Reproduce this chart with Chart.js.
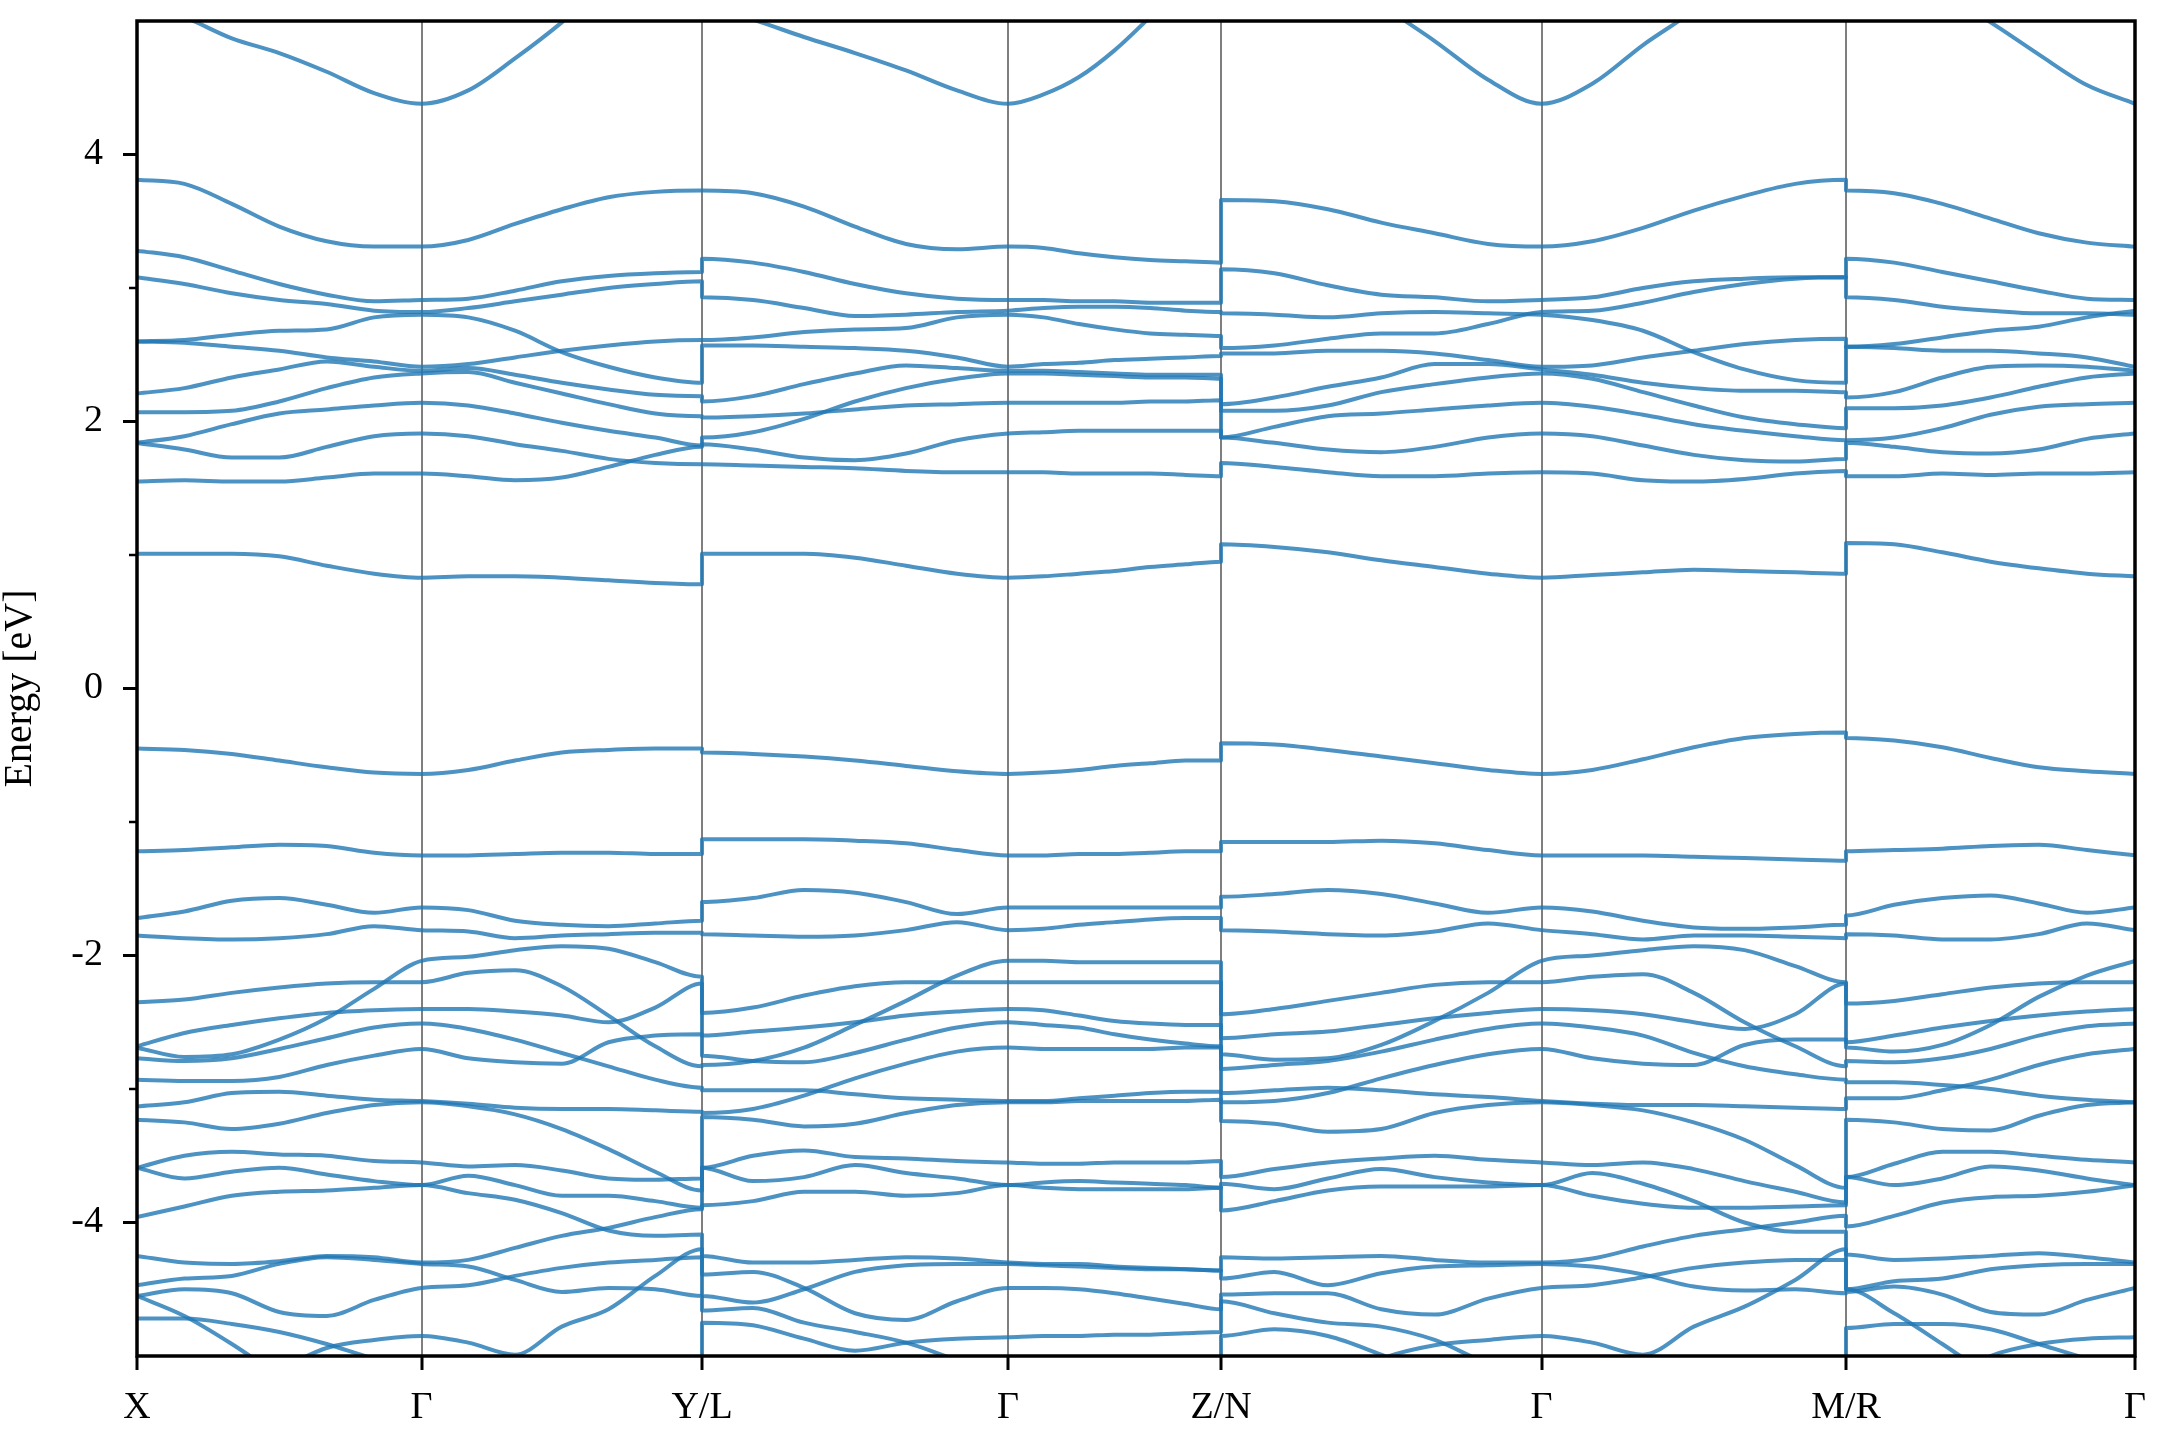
<!DOCTYPE html>
<html>
<head>
<meta charset="utf-8">
<script src="https://cdn.jsdelivr.net/npm/chart.js@4.4.0/dist/chart.umd.min.js"></script>
<style>
  html, body { margin: 0; padding: 0; background: #fff; }
  canvas { display: block; }
</style>
</head>
<body>
<canvas id="bands" width="2160" height="1440"></canvas>
<script>
// high-symmetry points along the k-path (cumulative distance)
var kNodes = [0, 284.5, 565, 871, 1084, 1404.5, 1709, 1998];
var kLabels = ['X', 'Γ', 'Y/L', 'Γ', 'Z/N', 'Γ', 'M/R', 'Γ'];
var energyTicks = [-4, -3, -2, -1, 0, 1, 2, 3, 4];

// energies in eV, 7 samples per segment (Γ shared), one row per band
var bandsXGY = [
  [5.15, 5.03, 4.87, 4.76, 4.62, 4.46, 4.38, 4.48, 4.72, 4.99, 5.30, 5.60, 5.90],
  [3.81, 3.78, 3.63, 3.46, 3.35, 3.31, 3.31, 3.36, 3.48, 3.59, 3.68, 3.72, 3.73],
  [3.28, 3.23, 3.13, 3.03, 2.95, 2.90, 2.91, 2.92, 2.98, 3.05, 3.09, 3.11, 3.12],
  [3.08, 3.03, 2.96, 2.91, 2.88, 2.83, 2.82, 2.85, 2.90, 2.95, 3.00, 3.03, 3.05],
  [2.60, 2.61, 2.65, 2.68, 2.69, 2.78, 2.80, 2.78, 2.68, 2.52, 2.41, 2.33, 2.29],
  [2.60, 2.59, 2.56, 2.53, 2.48, 2.45, 2.41, 2.43, 2.48, 2.53, 2.57, 2.60, 2.61],
  [2.21, 2.25, 2.33, 2.39, 2.45, 2.41, 2.38, 2.40, 2.35, 2.29, 2.24, 2.20, 2.19],
  [2.07, 2.07, 2.08, 2.15, 2.25, 2.33, 2.36, 2.37, 2.29, 2.21, 2.13, 2.06, 2.04],
  [1.84, 1.89, 1.98, 2.06, 2.09, 2.12, 2.14, 2.12, 2.06, 1.99, 1.93, 1.88, 1.82],
  [1.84, 1.79, 1.73, 1.73, 1.81, 1.89, 1.91, 1.89, 1.83, 1.78, 1.72, 1.69, 1.68],
  [1.55, 1.56, 1.55, 1.55, 1.58, 1.61, 1.61, 1.59, 1.56, 1.58, 1.66, 1.75, 1.81],
  [1.01, 1.01, 1.01, 0.99, 0.92, 0.86, 0.83, 0.84, 0.84, 0.83, 0.81, 0.79, 0.78],
  [-0.45, -0.46, -0.49, -0.54, -0.59, -0.63, -0.64, -0.61, -0.54, -0.48, -0.46, -0.45, -0.45],
  [-1.22, -1.21, -1.19, -1.17, -1.18, -1.23, -1.25, -1.25, -1.24, -1.23, -1.23, -1.24, -1.24],
  [-1.72, -1.67, -1.59, -1.57, -1.62, -1.68, -1.64, -1.66, -1.74, -1.77, -1.78, -1.76, -1.74],
  [-1.85, -1.87, -1.88, -1.87, -1.84, -1.78, -1.81, -1.82, -1.87, -1.85, -1.84, -1.83, -1.83],
  [-2.35, -2.33, -2.28, -2.24, -2.21, -2.20, -2.20, -2.13, -2.11, -2.23, -2.45, -2.68, -2.83],
  [-2.68, -2.58, -2.52, -2.47, -2.43, -2.41, -2.40, -2.40, -2.42, -2.45, -2.50, -2.39, -2.21],
  [-2.69, -2.76, -2.74, -2.63, -2.47, -2.25, -2.04, -2.01, -1.96, -1.93, -1.95, -2.05, -2.16],
  [-2.77, -2.79, -2.77, -2.70, -2.62, -2.54, -2.51, -2.55, -2.63, -2.73, -2.83, -2.93, -2.99],
  [-2.93, -2.94, -2.94, -2.91, -2.82, -2.75, -2.70, -2.77, -2.80, -2.81, -2.65, -2.60, -2.59],
  [-3.13, -3.10, -3.03, -3.02, -3.05, -3.08, -3.09, -3.11, -3.14, -3.15, -3.15, -3.16, -3.17],
  [-3.23, -3.25, -3.30, -3.26, -3.18, -3.12, -3.10, -3.13, -3.19, -3.30, -3.45, -3.62, -3.76],
  [-3.59, -3.50, -3.47, -3.49, -3.50, -3.54, -3.55, -3.58, -3.57, -3.61, -3.67, -3.68, -3.67],
  [-3.59, -3.67, -3.62, -3.59, -3.64, -3.69, -3.72, -3.65, -3.72, -3.80, -3.80, -3.84, -3.89],
  [-3.96, -3.88, -3.80, -3.77, -3.76, -3.74, -3.72, -3.78, -3.83, -3.93, -4.06, -4.10, -4.09],
  [-4.25, -4.30, -4.31, -4.29, -4.25, -4.26, -4.30, -4.28, -4.19, -4.10, -4.04, -3.96, -3.90],
  [-4.47, -4.42, -4.40, -4.31, -4.26, -4.28, -4.31, -4.33, -4.43, -4.52, -4.49, -4.50, -4.55],
  [-4.55, -4.50, -4.53, -4.67, -4.70, -4.58, -4.49, -4.47, -4.40, -4.34, -4.30, -4.28, -4.26],
  [-4.55, -4.70, -4.91, -5.15, -5.40, -5.60, -5.70, -5.75, -5.80, -5.80, -5.80, -5.80, -5.80],
  [-4.72, -4.72, -4.76, -4.82, -4.91, -5.02, -5.10, -5.20, -5.30, -5.40, -5.50, -5.55, -5.60],
  [-5.50, -5.40, -5.25, -5.10, -4.94, -4.88, -4.85, -4.90, -4.99, -4.78, -4.65, -4.40, -4.20]
];

var bandsLGZ = [
  [5.12, 5.01, 4.88, 4.76, 4.63, 4.48, 4.38, 4.45, 4.58, 4.78, 5.03, 5.30, 5.60],
  [3.73, 3.71, 3.61, 3.46, 3.33, 3.29, 3.31, 3.30, 3.26, 3.23, 3.21, 3.20, 3.19],
  [3.22, 3.19, 3.12, 3.03, 2.96, 2.92, 2.91, 2.91, 2.90, 2.90, 2.89, 2.89, 2.89],
  [2.93, 2.91, 2.85, 2.79, 2.80, 2.82, 2.83, 2.85, 2.86, 2.86, 2.85, 2.83, 2.82],
  [2.61, 2.63, 2.67, 2.69, 2.70, 2.78, 2.80, 2.78, 2.73, 2.69, 2.66, 2.65, 2.64],
  [2.57, 2.57, 2.56, 2.55, 2.53, 2.48, 2.41, 2.43, 2.44, 2.46, 2.47, 2.48, 2.49],
  [2.15, 2.19, 2.28, 2.36, 2.42, 2.40, 2.38, 2.38, 2.37, 2.36, 2.35, 2.35, 2.35],
  [2.03, 2.04, 2.06, 2.09, 2.12, 2.13, 2.14, 2.14, 2.14, 2.14, 2.15, 2.15, 2.16],
  [1.88, 1.92, 2.02, 2.15, 2.25, 2.32, 2.36, 2.36, 2.35, 2.34, 2.33, 2.33, 2.32],
  [1.83, 1.79, 1.73, 1.71, 1.76, 1.86, 1.91, 1.92, 1.93, 1.93, 1.93, 1.93, 1.93],
  [1.68, 1.67, 1.66, 1.65, 1.63, 1.62, 1.62, 1.62, 1.61, 1.61, 1.61, 1.60, 1.59],
  [1.01, 1.01, 1.01, 0.98, 0.92, 0.86, 0.83, 0.84, 0.86, 0.88, 0.91, 0.93, 0.95],
  [-0.48, -0.49, -0.51, -0.54, -0.58, -0.62, -0.64, -0.63, -0.61, -0.58, -0.56, -0.54, -0.54],
  [-1.13, -1.13, -1.13, -1.14, -1.16, -1.21, -1.25, -1.25, -1.24, -1.24, -1.23, -1.22, -1.22],
  [-1.60, -1.57, -1.51, -1.53, -1.60, -1.69, -1.64, -1.64, -1.64, -1.64, -1.64, -1.64, -1.64],
  [-1.84, -1.85, -1.86, -1.85, -1.81, -1.75, -1.81, -1.80, -1.77, -1.75, -1.73, -1.72, -1.72],
  [-2.43, -2.39, -2.30, -2.23, -2.20, -2.20, -2.20, -2.20, -2.20, -2.20, -2.20, -2.20, -2.20],
  [-2.60, -2.57, -2.54, -2.50, -2.45, -2.42, -2.40, -2.41, -2.45, -2.49, -2.51, -2.52, -2.52],
  [-2.82, -2.79, -2.69, -2.52, -2.34, -2.15, -2.04, -2.04, -2.05, -2.05, -2.05, -2.05, -2.05],
  [-2.75, -2.79, -2.80, -2.73, -2.63, -2.54, -2.50, -2.52, -2.54, -2.59, -2.63, -2.66, -2.68],
  [-3.01, -3.01, -3.01, -3.04, -3.07, -3.08, -3.09, -3.09, -3.07, -3.05, -3.03, -3.02, -3.02],
  [-3.18, -3.15, -3.05, -2.92, -2.81, -2.72, -2.69, -2.70, -2.70, -2.70, -2.70, -2.69, -2.69],
  [-3.21, -3.23, -3.28, -3.26, -3.18, -3.12, -3.10, -3.10, -3.09, -3.09, -3.09, -3.09, -3.08],
  [-3.59, -3.50, -3.46, -3.51, -3.52, -3.54, -3.55, -3.56, -3.56, -3.55, -3.55, -3.55, -3.54],
  [-3.59, -3.69, -3.66, -3.57, -3.63, -3.67, -3.72, -3.70, -3.69, -3.70, -3.71, -3.72, -3.74],
  [-3.87, -3.84, -3.77, -3.77, -3.80, -3.78, -3.72, -3.74, -3.75, -3.75, -3.75, -3.75, -3.74],
  [-4.25, -4.30, -4.30, -4.28, -4.26, -4.27, -4.30, -4.31, -4.31, -4.33, -4.34, -4.35, -4.36],
  [-4.39, -4.37, -4.49, -4.68, -4.73, -4.59, -4.49, -4.49, -4.50, -4.53, -4.57, -4.61, -4.65],
  [-4.55, -4.60, -4.50, -4.37, -4.32, -4.31, -4.31, -4.32, -4.33, -4.34, -4.35, -4.35, -4.36],
  [-4.66, -4.64, -4.75, -4.82, -4.90, -5.03, -5.15, -5.20, -5.25, -5.30, -5.30, -5.30, -5.30],
  [-4.75, -4.77, -4.87, -4.96, -4.90, -4.87, -4.86, -4.85, -4.85, -4.84, -4.84, -4.83, -4.82],
  [-5.50, -5.50, -5.50, -5.50, -5.50, -5.50, -5.50, -5.50, -5.50, -5.50, -5.50, -5.50, -5.50]
];

var bandsNGM = [
  [6.00, 5.70, 5.40, 5.12, 4.85, 4.56, 4.38, 4.53, 4.82, 5.08, 5.40, 5.70, 6.00],
  [3.66, 3.65, 3.59, 3.49, 3.41, 3.33, 3.31, 3.35, 3.45, 3.58, 3.69, 3.78, 3.81],
  [3.14, 3.11, 3.02, 2.95, 2.93, 2.90, 2.91, 2.93, 3.00, 3.05, 3.07, 3.08, 3.08],
  [2.81, 2.80, 2.78, 2.81, 2.82, 2.81, 2.80, 2.76, 2.68, 2.52, 2.39, 2.31, 2.29],
  [2.55, 2.57, 2.62, 2.66, 2.66, 2.73, 2.82, 2.83, 2.89, 2.97, 3.03, 3.07, 3.08],
  [2.51, 2.51, 2.53, 2.53, 2.51, 2.46, 2.41, 2.42, 2.48, 2.53, 2.58, 2.61, 2.62],
  [2.13, 2.18, 2.26, 2.33, 2.43, 2.43, 2.39, 2.35, 2.29, 2.25, 2.23, 2.23, 2.22],
  [2.08, 2.08, 2.12, 2.22, 2.28, 2.33, 2.36, 2.32, 2.22, 2.12, 2.03, 1.98, 1.95],
  [1.88, 1.96, 2.04, 2.06, 2.09, 2.12, 2.14, 2.11, 2.05, 1.98, 1.93, 1.89, 1.86],
  [1.88, 1.84, 1.79, 1.77, 1.81, 1.88, 1.91, 1.89, 1.82, 1.75, 1.71, 1.70, 1.72],
  [1.69, 1.66, 1.62, 1.59, 1.59, 1.61, 1.62, 1.61, 1.56, 1.55, 1.57, 1.61, 1.63],
  [1.08, 1.06, 1.02, 0.96, 0.91, 0.86, 0.83, 0.85, 0.87, 0.89, 0.88, 0.87, 0.86],
  [-0.41, -0.42, -0.46, -0.51, -0.56, -0.61, -0.64, -0.61, -0.53, -0.44, -0.37, -0.34, -0.33],
  [-1.15, -1.15, -1.15, -1.14, -1.16, -1.21, -1.25, -1.25, -1.25, -1.26, -1.27, -1.28, -1.29],
  [-1.56, -1.54, -1.51, -1.54, -1.61, -1.68, -1.64, -1.67, -1.74, -1.79, -1.80, -1.79, -1.77],
  [-1.81, -1.82, -1.84, -1.85, -1.82, -1.76, -1.81, -1.84, -1.88, -1.85, -1.85, -1.86, -1.87],
  [-2.44, -2.40, -2.34, -2.28, -2.22, -2.20, -2.20, -2.16, -2.14, -2.28, -2.50, -2.68, -2.83],
  [-2.62, -2.59, -2.57, -2.52, -2.47, -2.43, -2.40, -2.41, -2.44, -2.50, -2.55, -2.44, -2.21],
  [-2.74, -2.78, -2.77, -2.67, -2.49, -2.28, -2.04, -2.00, -1.96, -1.93, -1.96, -2.08, -2.20],
  [-2.85, -2.82, -2.79, -2.72, -2.63, -2.55, -2.51, -2.54, -2.60, -2.73, -2.83, -2.89, -2.93],
  [-3.03, -3.01, -2.99, -3.01, -3.04, -3.06, -3.09, -3.11, -3.12, -3.12, -3.13, -3.14, -3.15],
  [-3.10, -3.09, -3.03, -2.92, -2.82, -2.74, -2.70, -2.77, -2.81, -2.82, -2.67, -2.63, -2.63],
  [-3.24, -3.26, -3.32, -3.30, -3.18, -3.12, -3.10, -3.12, -3.16, -3.25, -3.38, -3.57, -3.74],
  [-3.66, -3.60, -3.55, -3.52, -3.50, -3.53, -3.55, -3.57, -3.55, -3.60, -3.69, -3.77, -3.85],
  [-3.71, -3.75, -3.67, -3.60, -3.66, -3.70, -3.72, -3.63, -3.71, -3.84, -4.00, -4.07, -4.07],
  [-3.91, -3.84, -3.76, -3.73, -3.73, -3.73, -3.72, -3.80, -3.86, -3.89, -3.89, -3.88, -3.87],
  [-4.26, -4.27, -4.26, -4.25, -4.28, -4.30, -4.30, -4.27, -4.18, -4.10, -4.05, -4.00, -3.95],
  [-4.42, -4.37, -4.47, -4.38, -4.33, -4.32, -4.31, -4.33, -4.39, -4.48, -4.51, -4.50, -4.53],
  [-4.54, -4.53, -4.53, -4.65, -4.69, -4.57, -4.49, -4.47, -4.41, -4.34, -4.30, -4.28, -4.28],
  [-4.59, -4.68, -4.75, -4.78, -4.88, -5.06, -5.20, -5.30, -5.35, -5.40, -5.40, -5.40, -5.40],
  [-4.85, -4.80, -4.85, -4.99, -5.15, -5.30, -5.40, -5.50, -5.55, -5.60, -5.60, -5.60, -5.60],
  [-5.50, -5.35, -5.20, -5.02, -4.92, -4.88, -4.85, -4.90, -4.99, -4.78, -4.63, -4.43, -4.20]
];

var bandsRG = [
  [5.70, 5.45, 5.20, 4.99, 4.75, 4.52, 4.38],
  [3.73, 3.71, 3.63, 3.52, 3.41, 3.34, 3.31],
  [3.22, 3.19, 3.12, 3.05, 2.98, 2.92, 2.91],
  [2.93, 2.91, 2.86, 2.83, 2.81, 2.81, 2.80],
  [2.56, 2.58, 2.63, 2.68, 2.71, 2.78, 2.83],
  [2.56, 2.55, 2.53, 2.53, 2.51, 2.48, 2.41],
  [2.18, 2.22, 2.33, 2.41, 2.42, 2.41, 2.38],
  [2.10, 2.10, 2.12, 2.18, 2.26, 2.33, 2.36],
  [1.86, 1.88, 1.95, 2.05, 2.11, 2.13, 2.14],
  [1.84, 1.81, 1.77, 1.76, 1.79, 1.87, 1.91],
  [1.59, 1.59, 1.61, 1.60, 1.61, 1.61, 1.62],
  [1.09, 1.08, 1.02, 0.95, 0.90, 0.86, 0.84],
  [-0.37, -0.39, -0.44, -0.52, -0.59, -0.62, -0.64],
  [-1.22, -1.21, -1.20, -1.18, -1.17, -1.21, -1.25],
  [-1.70, -1.62, -1.57, -1.55, -1.61, -1.68, -1.64],
  [-1.84, -1.85, -1.88, -1.88, -1.84, -1.76, -1.81],
  [-2.36, -2.34, -2.29, -2.24, -2.21, -2.20, -2.20],
  [-2.65, -2.60, -2.54, -2.49, -2.45, -2.42, -2.40],
  [-2.69, -2.72, -2.67, -2.52, -2.31, -2.15, -2.04],
  [-2.79, -2.80, -2.77, -2.70, -2.60, -2.53, -2.51],
  [-2.95, -2.95, -2.97, -3.00, -3.05, -3.08, -3.10],
  [-3.07, -3.07, -3.01, -2.93, -2.82, -2.74, -2.70],
  [-3.23, -3.25, -3.30, -3.31, -3.20, -3.12, -3.10],
  [-3.66, -3.56, -3.47, -3.47, -3.50, -3.53, -3.55],
  [-3.66, -3.72, -3.67, -3.58, -3.61, -3.67, -3.72],
  [-4.03, -3.95, -3.85, -3.81, -3.80, -3.77, -3.72],
  [-4.24, -4.28, -4.27, -4.25, -4.23, -4.26, -4.30],
  [-4.50, -4.44, -4.42, -4.35, -4.32, -4.31, -4.31],
  [-4.50, -4.68, -4.91, -5.15, -5.35, -5.50, -5.60],
  [-4.52, -4.48, -4.54, -4.67, -4.69, -4.58, -4.49],
  [-4.79, -4.76, -4.76, -4.80, -4.91, -5.02, -5.12],
  [-5.50, -5.35, -5.20, -5.00, -4.91, -4.87, -4.86]
];

// each continuous piece of the path starts at a node index
var pieces = [
  { start: 0, bands: bandsXGY },
  { start: 2, bands: bandsLGZ },
  { start: 4, bands: bandsNGM },
  { start: 6, bands: bandsRG }
];
var perSegment = 6;

function kSamples(piece) {
  var n = piece.bands[0].length;
  var nseg = (n - 1) / perSegment;
  var ks = [];
  for (var s = 0; s < nseg; s++) {
    var k0 = kNodes[piece.start + s], k1 = kNodes[piece.start + s + 1];
    for (var j = (s === 0 ? 0 : 1); j <= perSegment; j++) {
      ks.push(k0 + (k1 - k0) * j / perSegment);
    }
  }
  return ks;
}

function rankOrder(bands, pick) {
  return bands.map(function (b, i) { return i; })
    .sort(function (a, b) { return pick(bands[b]) - pick(bands[a]); });
}

// join pieces band by band: at each break, the n-th highest band continues
var lines = bandsXGY.map(function () { return []; });
var prevOwner = null, prevPiece = null;
pieces.forEach(function (piece) {
  var ks = kSamples(piece);
  var owner = [];
  if (!prevPiece) {
    owner = piece.bands.map(function (b, i) { return i; });
  } else {
    var endRank = rankOrder(prevPiece.bands, function (b) { return b[b.length - 1]; });
    var startRank = rankOrder(piece.bands, function (b) { return b[0]; });
    startRank.forEach(function (c, r) { owner[c] = prevOwner[endRank[r]]; });
  }
  piece.bands.forEach(function (vals, c) {
    vals.forEach(function (e, j) { lines[owner[c]].push({ x: ks[j], y: e }); });
  });
  prevOwner = owner;
  prevPiece = piece;
});

var datasets = lines.map(function (pts) {
  return {
    data: pts,
    borderColor: 'rgba(31, 119, 180, 0.8)',
    borderWidth: 4,
    pointRadius: 0,
    fill: false,
    cubicInterpolationMode: 'monotone',
    borderJoinStyle: 'round'
  };
});

var serif = "'Liberation Serif', 'DejaVu Serif', serif";

var framePlugin = {
  id: 'frame',
  afterDraw: function (chart) {
    var ctx = chart.ctx, a = chart.chartArea, ys = chart.scales.y;
    ctx.save();
    ctx.strokeStyle = '#000';
    ctx.lineWidth = 2.5;
    energyTicks.forEach(function (v) {
      if (v % 2 === 0) return;
      var py = ys.getPixelForValue(v);
      ctx.beginPath();
      ctx.moveTo(a.left - 8, py);
      ctx.lineTo(a.left, py);
      ctx.stroke();
    });
    ctx.lineWidth = 3.5;
    ctx.strokeRect(a.left, a.top, a.right - a.left, a.bottom - a.top);
    ctx.restore();
  }
};

var chart = new Chart(document.getElementById('bands'), {
  type: 'line',
  data: { datasets: datasets },
  plugins: [framePlugin],
  options: {
    responsive: false,
    animation: false,
    devicePixelRatio: 1,
    layout: { padding: { top: 21, right: 25, left: 0, bottom: 0 } },
    plugins: { legend: { display: false }, tooltip: { enabled: false } },
    scales: {
      x: {
        type: 'linear',
        min: kNodes[0],
        max: kNodes[kNodes.length - 1],
        afterBuildTicks: function (s) {
          s.ticks = kNodes.map(function (v) { return { value: v }; });
        },
        afterFit: function (s) { s.height = 84; s.paddingLeft = 0; s.paddingRight = 0; },
        ticks: {
          autoSkip: false,
          maxRotation: 0,
          padding: 15,
          color: '#000',
          font: { family: serif, size: 38 },
          callback: function (v, i) { return kLabels[i]; }
        },
        grid: {
          color: 'rgba(0, 0, 0, 0.5)',
          lineWidth: 2,
          tickColor: '#000',
          tickWidth: 3,
          tickLength: 14
        },
        border: { display: false }
      },
      y: {
        min: -5,
        max: 5,
        afterBuildTicks: function (s) {
          s.ticks = energyTicks.filter(function (v) { return v % 2 === 0; })
            .map(function (v) { return { value: v }; });
        },
        afterFit: function (s) { s.width = 137; s.paddingTop = 0; s.paddingBottom = 0; },
        ticks: {
          padding: 20,
          color: '#000',
          font: { family: serif, size: 38 },
          callback: function (v) { return String(v); }
        },
        grid: {
          drawOnChartArea: false,
          tickColor: '#000',
          tickWidth: 3,
          tickLength: 14
        },
        border: { display: false },
        title: {
          display: true,
          text: 'Energy [eV]',
          color: '#000',
          font: { family: serif, size: 40, lineHeight: 1 },
          padding: { top: 0, bottom: 0 }
        }
      }
    }
  }
});
</script>
</body>
</html>
